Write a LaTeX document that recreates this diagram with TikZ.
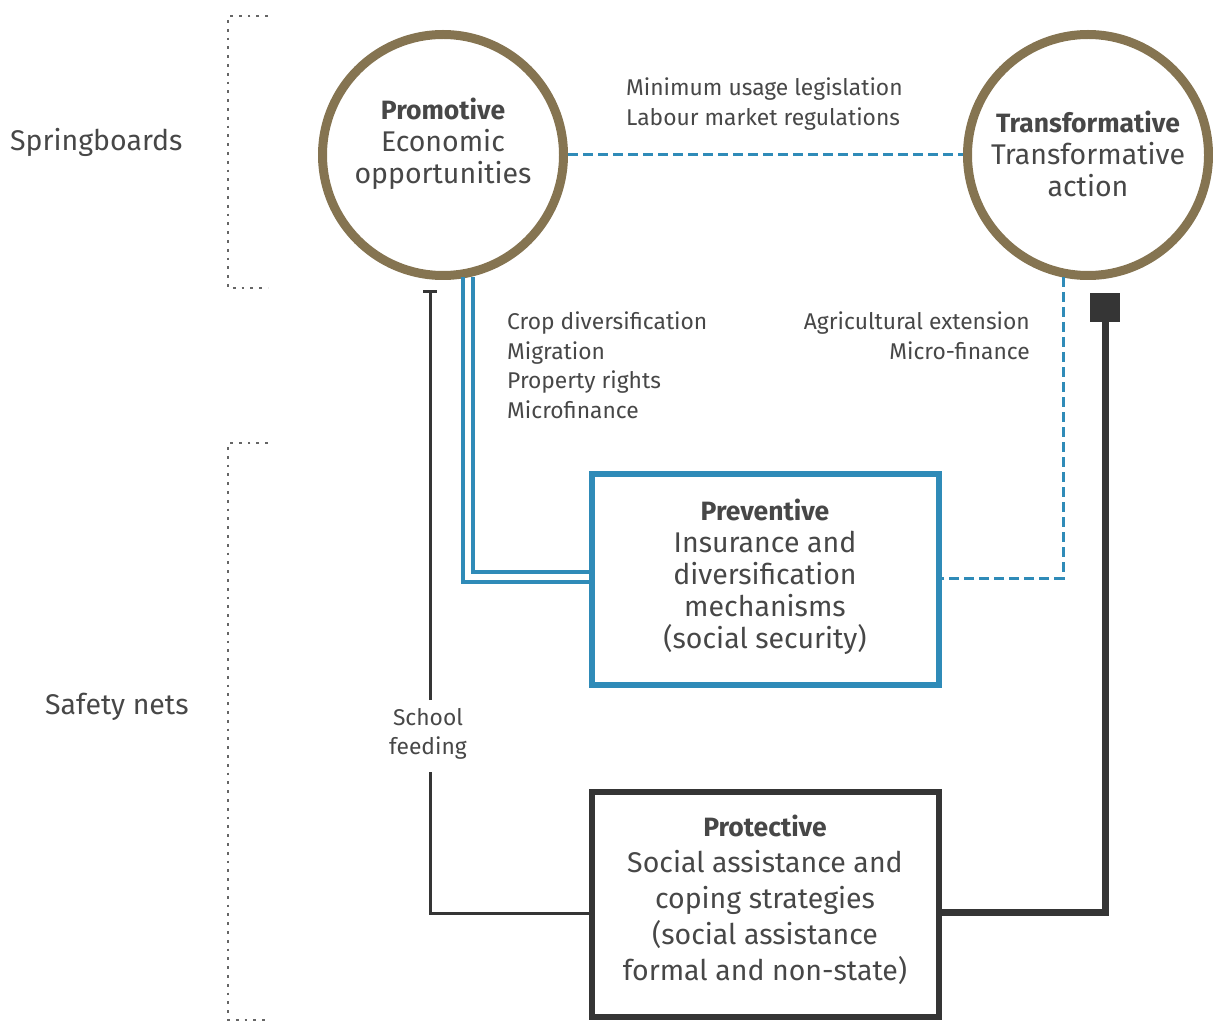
\documentclass[tikz,border=0pt]{standalone}
\usepackage{fontspec}
\setmainfont{Fira Sans}
\usetikzlibrary{calc}
\newcommand{\hd}[1]{{\fontsize{26.5}{32}\selectfont\bfseries #1}}
\begin{document}
\begin{tikzpicture}[x=1pt,y=-1pt,
  txt/.style={text=black!72, font=\fontsize{28.5}{32}\selectfont, align=center, inner sep=0pt},
  lbl/.style={text=black!72, font=\fontsize{22.8}{29.5}\selectfont, inner sep=0pt},
  ring/.style={circle, draw=ringc, line width=9pt, minimum size=241pt, inner sep=0pt},
  bluebox/.style={draw=bluec, line width=6pt, minimum width=347pt, inner sep=0pt},
  darkbox/.style={draw=darkc, line width=6pt, minimum width=347pt, inner sep=0pt},
  bluedash/.style={draw=bluec, line width=3pt, dash pattern=on 10pt off 5pt},
  bracket/.style={draw=black!60, line width=2.8pt, dash pattern=on 2.8pt off 6pt}
]
\definecolor{ringc}{HTML}{857451}
\definecolor{bluec}{HTML}{2F8BB8}
\definecolor{darkc}{HTML}{353535}
\useasboundingbox (0,0) rectangle (1213,1024);

% side brackets
\draw[bracket] (268,16) -- (228,16) -- (228,288) -- (268,288);
\draw[bracket] (268,443) -- (228,443) -- (228,1020) -- (268,1020);
\node[txt, anchor=west] (spring) at (10,142) {Springboards};
\node[txt, anchor=west] (safety) at (45,707) {Safety nets};

% circles
\node[ring] (prom) at (443,155) {};
\node[txt] (promtxt) at (443,144) {\hd{Promotive}\\Economic\\opportunities};
\node[ring] (trans) at (1088,155) {};
\node[txt] (transtxt) at (1088,154) {\hd{Transformative}\\Transformative\\action};

% boxes
\node[bluebox, minimum height=211pt] (prev) at (765,579) {};
\node[txt] (prevtxt) at (765,577) {\hd{Preventive}\\Insurance and\\diversification\\mechanisms\\(social security)};
\node[darkbox, minimum height=225pt] (prot) at (765,904) {};
\node[txt, font=\fontsize{28.5}{36}\selectfont] (prottxt) at (765,900) {\hd{Protective}\\Social assistance and\\coping strategies\\(social assistance\\formal and non-state)};

% connectors
\draw[bluedash] (prom.east) -- (trans.west);
\coordinate (tb) at ($(trans.center)+(-25,122)$);
\draw[bluedash] (tb) -- (tb |- 0,578) -- (prev.east |- 0,578);

\draw[bluec, line width=4pt] (463,277) -- (463,582) -- (prev.west |- 0,582);
\draw[bluec, line width=4pt] (473,277) -- (473,572) -- (prev.west |- 0,572);

\draw[darkc, line width=7pt] (prot.east |- 0,912) -- (1105,912) -- (1105,315);
\coordinate (sq) at (1105,307);
\fill[darkc] ($(sq)+(-15,-14)$) rectangle ($(sq)+(15,15)$);
\node[lbl, align=center] (school) at (428,734) {School\\feeding};
\draw[darkc, line width=3pt] (prot.west |- 0,913) -- (430,913) -- (430,772);
\draw[darkc, line width=3pt] (430,700) -- (430,292);
\draw[darkc, line width=3pt] (423,292) -- (437,292);

% labels
\node[lbl, anchor=west, align=left] (lab1) at (626,104) {Minimum usage legislation\\Labour market regulations};
\node[lbl, anchor=north west, align=left] (lab2) at (507,312) {Crop diversification\\Migration\\Property rights\\Microfinance};
\node[lbl, anchor=north east, align=right] (lab3) at (1030,312) {Agricultural extension\\Micro-finance};
\end{tikzpicture}
\end{document}
